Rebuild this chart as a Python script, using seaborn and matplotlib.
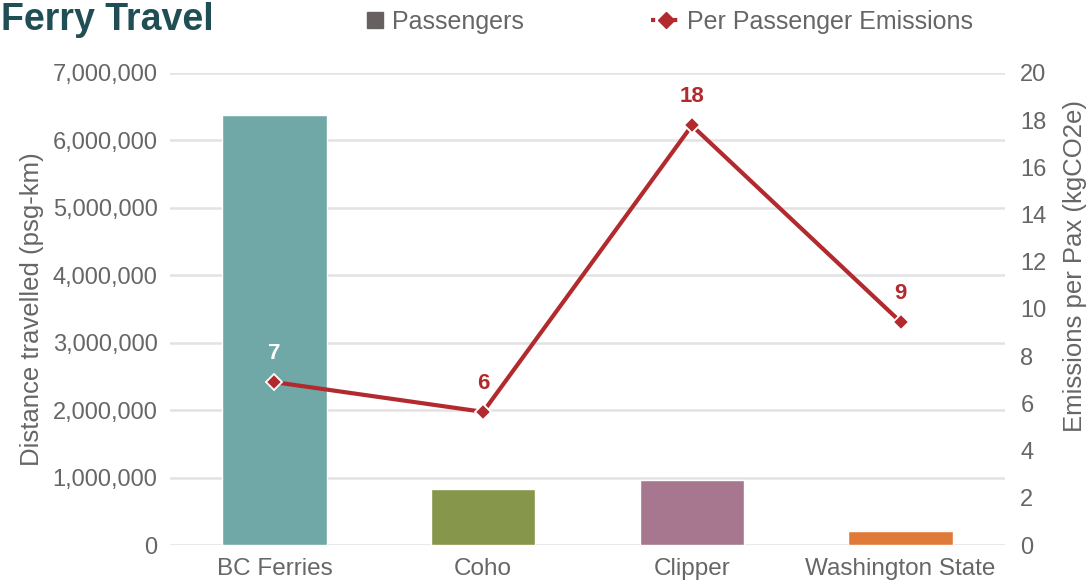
import matplotlib
matplotlib.use("Agg")
import matplotlib.pyplot as plt
import seaborn as sns
import pandas as pd
from matplotlib.lines import Line2D

categories = ["BC Ferries", "Coho", "Clipper", "Washington State"]
passenger_km = [6380000, 830000, 960000, 210000]
emissions_per_pax = [6.9, 5.64, 17.77, 9.45]
emission_labels = ["7", "6", "18", "9"]
bar_colors = ["#6fa8a6", "#86964a", "#a6778f", "#e07a3a"]
left_ticks = [0, 1000000, 2000000, 3000000, 4000000, 5000000, 6000000, 7000000]
right_ticks = [0, 2, 4, 6, 8, 10, 12, 14, 16, 18, 20]

sns.set_theme(style="white")
plt.rcParams['font.family'] = ['Liberation Sans', 'DejaVu Sans']

GREY = "#666666"
RED = "#b22a2e"

df = pd.DataFrame({"cat": categories, "km": passenger_km, "em": emissions_per_pax})

fig = plt.figure(figsize=(10.9, 5.88), dpi=100)
ax = fig.add_axes([0.156, 0.0731, 0.766, 0.803])
sns.barplot(data=df, x="cat", y="km", hue="cat", palette=bar_colors, width=0.5,
            legend=False, ax=ax, saturation=1)
ax.set_xlim(-0.5, 3.5)
ax.set_ylim(0, 7000000)
ax.set_yticks(left_ticks)
ax.set_yticklabels([f"{v:,}" for v in left_ticks])
ax.grid(axis="y", color="#e2e2e2", linewidth=1.8)
ax.set_axisbelow(True)
for s in ax.spines.values():
    s.set_visible(False)
ax.tick_params(axis="y", colors=GREY, labelsize=17, length=0, pad=9)
ax.tick_params(axis="x", colors=GREY, labelsize=17.5, length=0, pad=9)
ax.set_xlabel("")
ax.set_ylabel("Distance travelled (psg-km)", color=GREY, fontsize=18.5, labelpad=6)

ax2 = ax.twinx()
sns.lineplot(x=list(range(len(categories))), y=emissions_per_pax, ax=ax2, color=RED,
             linewidth=3, marker="D", markersize=8, markeredgecolor="white",
             markeredgewidth=1.3)
ax2.set_ylim(0, 20)
ax2.set_yticks(right_ticks)
for s in ax2.spines.values():
    s.set_visible(False)
ax2.tick_params(axis="y", colors=GREY, labelsize=17, length=0, pad=11)
ax2.set_ylabel("Emissions per Pax (kgCO2e)", color=GREY, fontsize=18.5)
ax2.yaxis.set_label_coords(1.07, 0.59)
ax2.grid(False)

for i, (v, lab) in enumerate(zip(emissions_per_pax, emission_labels)):
    col = "white" if i == 0 else RED
    ax2.annotate(lab, (i, v), xytext=(0, 13), textcoords="offset points",
                 ha="center", va="bottom", fontsize=16, fontweight="bold", color=col)

fig.text(0.001, 0.966, "Ferry Travel", fontsize=27, fontweight="bold", color="#1f4e55",
         ha="left", va="center")

h1 = [Line2D([0], [0], marker="s", color="none", markerfacecolor="#666060",
             markeredgecolor="#666060", markersize=12)]
h2 = [Line2D([0], [0], color=RED, linestyle=":", linewidth=3, marker="D",
             markersize=8, markeredgecolor=RED)]
leg1 = fig.legend(h1, ["Passengers"], loc="center left", bbox_to_anchor=(0.333, 0.963),
                  frameon=False, fontsize=18, handlelength=1.0, handletextpad=0.15,
                  borderpad=0, borderaxespad=0, labelcolor=GREY)
leg2 = fig.legend(h2, ["Per Passenger Emissions"], loc="center left",
                  bbox_to_anchor=(0.597, 0.963), frameon=False, fontsize=18,
                  handlelength=1.25, handletextpad=0.2, borderpad=0, borderaxespad=0,
                  labelcolor=GREY)

fig.savefig("out.png", dpi=100)
